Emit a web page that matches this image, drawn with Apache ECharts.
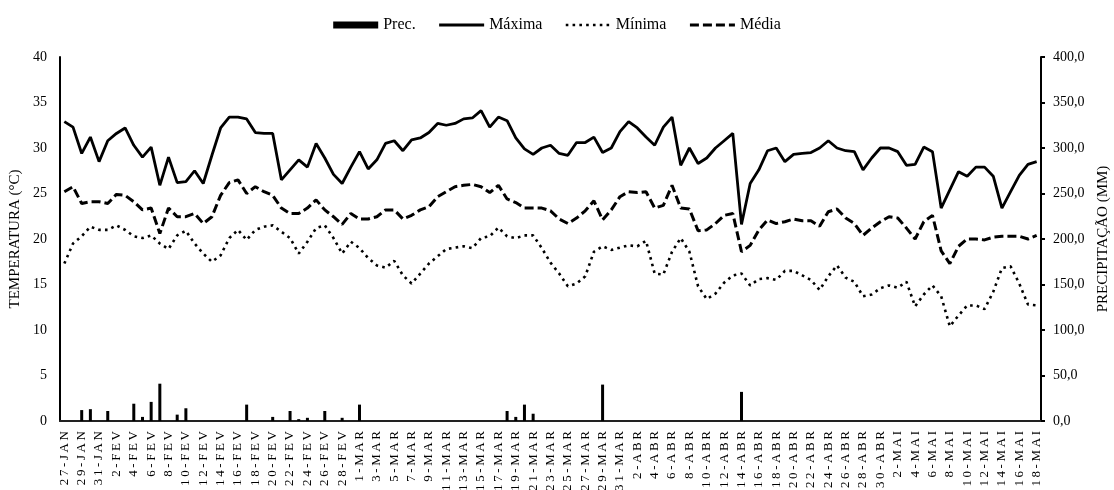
<!DOCTYPE html>
<html>
<head>
<meta charset="utf-8">
<script src="https://cdn.jsdelivr.net/npm/echarts@6/dist/echarts.min.js"></script>
<style>
  html, body { margin: 0; padding: 0; background: #fff; }
  #main { width: 1114px; height: 490px; }
</style>
</head>
<body>
<div id="main"></div>
<script>
var dias = [
  "27-JAN", "28-JAN", "29-JAN", "30-JAN", "31-JAN",
  "1-FEV", "2-FEV", "3-FEV", "4-FEV", "5-FEV", "6-FEV", "7-FEV", "8-FEV", "9-FEV", "10-FEV",
  "11-FEV", "12-FEV", "13-FEV", "14-FEV", "15-FEV", "16-FEV", "17-FEV", "18-FEV", "19-FEV", "20-FEV",
  "21-FEV", "22-FEV", "23-FEV", "24-FEV", "25-FEV", "26-FEV", "27-FEV", "28-FEV", "29-FEV",
  "1-MAR", "2-MAR", "3-MAR", "4-MAR", "5-MAR", "6-MAR", "7-MAR", "8-MAR", "9-MAR", "10-MAR",
  "11-MAR", "12-MAR", "13-MAR", "14-MAR", "15-MAR", "16-MAR", "17-MAR", "18-MAR", "19-MAR", "20-MAR",
  "21-MAR", "22-MAR", "23-MAR", "24-MAR", "25-MAR", "26-MAR", "27-MAR", "28-MAR", "29-MAR", "30-MAR", "31-MAR",
  "1-ABR", "2-ABR", "3-ABR", "4-ABR", "5-ABR", "6-ABR", "7-ABR", "8-ABR", "9-ABR", "10-ABR",
  "11-ABR", "12-ABR", "13-ABR", "14-ABR", "15-ABR", "16-ABR", "17-ABR", "18-ABR", "19-ABR", "20-ABR",
  "21-ABR", "22-ABR", "23-ABR", "24-ABR", "25-ABR", "26-ABR", "27-ABR", "28-ABR", "29-ABR", "30-ABR",
  "1-MAI", "2-MAI", "3-MAI", "4-MAI", "5-MAI", "6-MAI", "7-MAI", "8-MAI", "9-MAI", "10-MAI",
  "11-MAI", "12-MAI", "13-MAI", "14-MAI", "15-MAI", "16-MAI", "17-MAI", "18-MAI"
];

// precipitacao diaria (mm)
var prec = [
  0, 0, 12, 13, 0, 11, 0, 0, 19, 4.5, 21, 41, 0, 7, 14, 0, 0, 0, 0, 0,
  0, 18, 0, 0, 4.5, 0, 11, 2, 3.5, 0, 11, 0, 3.5, 0, 18, 0, 0, 0, 0, 0,
  0, 0, 0, 0, 0, 0, 0, 0, 0, 0, 0, 11, 4.5, 18, 8, 0, 0, 0, 0, 0,
  0, 0, 40, 0, 0, 0, 0, 0, 0, 0, 0, 0, 0, 0, 0, 0, 0, 0, 32, 0,
  0, 0, 0, 0, 0, 0, 0, 0, 0, 0, 0, 0, 0, 0, 0, 0, 0, 0, 0, 0,
  0, 0, 0, 0, 0, 0, 0, 0, 0, 0, 0, 0, 0
];

var maxima = [
  32.9, 32.3, 29.4, 31.2, 28.5, 30.8, 31.6, 32.2, 30.3, 29.0, 30.1, 25.9, 29.0, 26.2, 26.3, 27.5, 26.1, 29.2, 32.2, 33.4,
  33.4, 33.2, 31.7, 31.6, 31.6, 26.5, 27.6, 28.7, 27.9, 30.5, 28.9, 27.1, 26.1, 27.9, 29.6, 27.7, 28.7, 30.5, 30.8, 29.7,
  30.9, 31.1, 31.7, 32.7, 32.5, 32.7, 33.2, 33.3, 34.1, 32.3, 33.4, 33.0, 31.1, 29.9, 29.3, 30.0, 30.3, 29.4, 29.2, 30.6,
  30.6, 31.2, 29.5, 30.0, 31.8, 32.9, 32.2, 31.2, 30.3, 32.3, 33.4, 28.1, 30.0, 28.3, 28.9, 30.0, 30.8, 31.6, 21.6, 26.1,
  27.6, 29.7, 30.0, 28.5, 29.3, 29.4, 29.5, 30.0, 30.8, 30.0, 29.7, 29.6, 27.6, 28.9, 30.0, 30.0, 29.6, 28.1, 28.2, 30.1,
  29.6, 23.4, 25.4, 27.4, 26.9, 27.9, 27.9, 26.9, 23.4, 25.2, 27.0, 28.2, 28.5
];

var minima = [
  17.3, 19.5, 20.3, 21.35, 21.0, 21.0, 21.5, 21.0, 20.3, 20.1, 20.4, 19.5, 18.9, 20.4, 20.9, 19.5, 18.4, 17.5, 18.2, 20.1,
  21.0, 19.9, 21.0, 21.35, 21.5, 20.8, 20.1, 18.4, 19.7, 21.2, 21.5, 20.1, 18.4, 19.7, 19.0, 17.9, 17.1, 16.85, 17.6, 16.0,
  15.1, 16.2, 17.3, 18.1, 18.9, 19.05, 19.2, 19.0, 20.1, 20.3, 21.25, 20.3, 20.1, 20.4, 20.4, 19.0, 17.4, 16.2, 14.8, 15.1,
  15.9, 18.6, 19.2, 18.8, 19.05, 19.3, 19.2, 19.8, 16.2, 16.1, 18.6, 20.1, 18.6, 14.8, 13.4, 14.0, 15.2, 16.0, 16.2, 14.9,
  15.6, 15.7, 15.5, 16.5, 16.5, 16.0, 15.5, 14.4, 15.9, 17.1, 15.75, 15.3, 13.7, 13.9, 14.6, 14.9, 14.65, 15.3, 12.6, 13.9,
  14.9, 13.7, 10.4, 11.6, 12.7, 12.7, 12.3, 14.2, 16.8, 17.0, 15.1, 12.8, 12.7
];

var media = [
  25.2, 25.75, 23.9, 24.1, 24.1, 23.9, 24.9, 24.8, 24.1, 23.2, 23.4, 20.6, 23.4, 22.45, 22.45, 22.8, 21.7, 22.45, 24.8, 26.2,
  26.5, 25.0, 25.75, 25.2, 24.8, 23.4, 22.8, 22.8, 23.4, 24.3, 23.2, 22.45, 21.6, 22.8, 22.2, 22.2, 22.45, 23.2, 23.2, 22.2,
  22.6, 23.2, 23.55, 24.65, 25.2, 25.75, 25.9, 26.0, 25.75, 25.1, 25.9, 24.4, 24.0, 23.4, 23.4, 23.4, 23.1, 22.2, 21.7, 22.3,
  23.1, 24.2, 22.1, 23.2, 24.65, 25.2, 25.1, 25.2, 23.4, 23.7, 25.9, 23.4, 23.3, 20.9, 21.0, 21.7, 22.6, 22.8, 18.6, 19.3,
  21.0, 22.1, 21.7, 21.9, 22.2, 22.0, 22.0, 21.4, 23.0, 23.3, 22.3, 21.7, 20.4, 21.2, 21.9, 22.45, 22.3, 21.2, 20.0, 21.9,
  22.6, 18.7, 17.3, 19.2, 20.0, 20.0, 19.9, 20.2, 20.3, 20.3, 20.3, 20.0, 20.4
];

var fonte = "'Liberation Serif', 'Times New Roman', serif";

var myChart = echarts.init(document.getElementById("main"));
myChart.setOption({
  animation: false,
  textStyle: { fontFamily: fonte, color: "#000" },
  legend: {
    top: 12,
    left: "center",
    itemWidth: 45,
    itemHeight: 7,
    itemGap: 22,
    textStyle: { fontFamily: fonte, fontSize: 16, color: "#000" },
    data: [
      { name: "Prec.", icon: "rect" },
      { name: "Máxima", itemStyle: { opacity: 0 }, lineStyle: { width: 3, type: "solid" } },
      { name: "Mínima", itemStyle: { opacity: 0 }, lineStyle: { width: 2.6, type: [2.6, 4.2] } },
      { name: "Média", itemStyle: { opacity: 0 }, lineStyle: { width: 3, type: [9, 4] } },
    ],
  },
  grid: {
    left: 60,
    right: 73,
    top: 57,
    bottom: 69,
    outerBoundsMode: "none",
  },
  xAxis: {
    type: "category",
    data: dias,
    boundaryGap: true,
    axisLine: { lineStyle: { color: "#222", width: 2 } },
    axisTick: { show: false },
    axisLabel: {
      interval: 1,
      rotate: 90,
      margin: 10,
      fontSize: 13,
      color: "#000",
      fontFamily: fonte,
      formatter: function (v) {
        return v.split("").join("\u2009");
      },
    },
  },
  yAxis: [
    {
      type: "value",
      min: 0,
      max: 40,
      interval: 5,
      name: "TEMPERATURA (°C)",
      nameLocation: "middle",
      nameRotate: 90,
      nameGap: 35,
      nameTextStyle: { fontFamily: fonte, fontSize: 15, color: "#000" },
      axisLine: { show: true, lineStyle: { color: "#000", width: 2 } },
      axisTick: { show: false },
      splitLine: { show: false },
      axisLabel: { fontSize: 14, margin: 13, color: "#000", fontFamily: fonte },
    },
    {
      type: "value",
      position: "right",
      min: 0,
      max: 400,
      interval: 50,
      name: "PRECIPITAÇÃO (MM)",
      nameLocation: "middle",
      nameRotate: 90,
      nameGap: 50,
      nameTextStyle: { fontFamily: fonte, fontSize: 15, color: "#000" },
      axisLine: { show: true, lineStyle: { color: "#000", width: 2 } },
      axisTick: { show: true, length: 4, lineStyle: { color: "#000", width: 2 } },
      splitLine: { show: false },
      axisLabel: {
        fontSize: 14,
        margin: 12,
        color: "#000",
        fontFamily: fonte,
        formatter: function (v) {
          return v.toFixed(1).replace(".", ",");
        },
      },
    },
  ],
  series: [
    {
      name: "Prec.",
      type: "bar",
      yAxisIndex: 1,
      data: prec,
      barWidth: 3,
      itemStyle: { color: "#000" },
    },
    {
      name: "Máxima",
      type: "line",
      data: maxima,
      symbol: "none",
      color: "#000",
      lineStyle: { color: "#000", width: 2.8, type: "solid" },
    },
    {
      name: "Mínima",
      type: "line",
      data: minima,
      symbol: "none",
      color: "#000",
      lineStyle: { color: "#000", width: 2.6, type: [2.6, 4.2] },
    },
    {
      name: "Média",
      type: "line",
      data: media,
      symbol: "none",
      color: "#000",
      lineStyle: { color: "#000", width: 3, type: [9, 4] },
    },
  ],
});
</script>
</body>
</html>
